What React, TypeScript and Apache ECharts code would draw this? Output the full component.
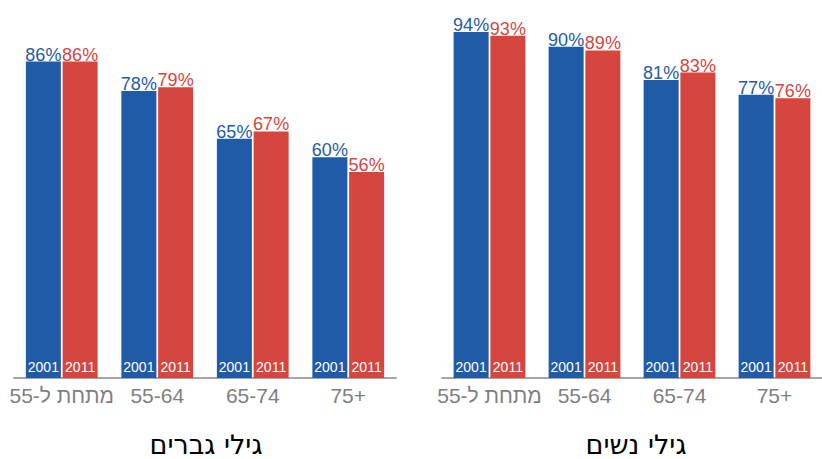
import React, { useEffect, useRef } from "react";
import * as echarts from "echarts";

const categories = ["מתחת ל-55", "55-64", "65-74", "75+"];
const years = ["2001", "2011"];
const men2001 = [86, 78, 65, 60];
const men2011 = [86, 79, 67, 56];
const women2001 = [94, 90, 81, 77];
const women2011 = [93, 89, 83, 76];
const panelTitles = ["גילי גברים", "גילי נשים"];

const BLUE = "#1f5ba6";
const RED = "#d5463f";
const FONT = "'Liberation Sans', Arial, sans-serif";

export default function App() {
  const ref = useRef<HTMLDivElement>(null);
  useEffect(() => {
    if (!ref.current) return;
    const chart = echarts.init(ref.current, null, { renderer: "svg" });
    const grids = [
      { left: 14, width: 382, top: 10, bottom: 81 },
      { left: 442, width: 388, top: 10, bottom: 81 },
    ];
    const xAxes: any[] = [];
    const yAxes: any[] = [];
    const series: any[] = [];
    const panels = [
      [men2001, men2011],
      [women2001, women2011],
    ];
    const colors = [BLUE, RED];
    panels.forEach((pdata, p) => {
      xAxes.push({
        type: "category",
        gridIndex: p,
        data: categories,
        axisLine: { show: true, lineStyle: { color: "#a6a6a6", width: 2 } },
        axisTick: { show: false },
        axisLabel: { color: "#7f7f7f", fontSize: 21, fontFamily: FONT, margin: 7, interval: 0 },
      });
      xAxes.push({
        type: "category",
        gridIndex: p,
        data: categories,
        show: false,
      });
      yAxes.push({
        type: "value",
        gridIndex: p,
        min: 0,
        max: 100,
        show: false,
        splitLine: { show: false },
      });
      pdata.forEach((vals, s) => {
        series.push({
          type: "bar",
          xAxisIndex: p * 2,
          yAxisIndex: p,
          data: vals,
          barWidth: 35,
          barGap: "5%",
          itemStyle: { color: colors[s] },
          label: {
            show: true,
            position: "top",
            distance: -2,
            formatter: "{c}%",
            color: colors[s],
            fontSize: 18,
            fontFamily: FONT,
          },
        });
      });
      pdata.forEach((vals, s) => {
        series.push({
          type: "bar",
          xAxisIndex: p * 2 + 1,
          yAxisIndex: p,
          data: vals,
          barWidth: 35,
          barGap: "5%",
          itemStyle: { color: "rgba(0,0,0,0)" },
          label: {
            show: true,
            position: "insideBottom",
            distance: 4,
            formatter: () => years[s],
            color: "#ffffff",
            fontSize: 14,
            fontFamily: FONT,
          },
          silent: true,
        });
      });
    });
    chart.setOption({
      animation: false,
      grid: grids,
      xAxis: xAxes,
      yAxis: yAxes,
      series,
      graphic: panelTitles.map((t, i) => ({
        type: "text",
        x: i === 0 ? 206 : 636,
        y: 444,
        style: {
          text: t,
          fontSize: 27,
          fontFamily: "'DejaVu Sans', sans-serif",
          fill: "#000000",
          textAlign: "center",
          textVerticalAlign: "middle",
        },
      })),
    });
    return () => chart.dispose();
  }, []);
  return (
    <div
      ref={ref}
      style={{ position: "fixed", left: 0, top: 0, width: 822, height: 459, background: "#fff" }}
    />
  );
}
